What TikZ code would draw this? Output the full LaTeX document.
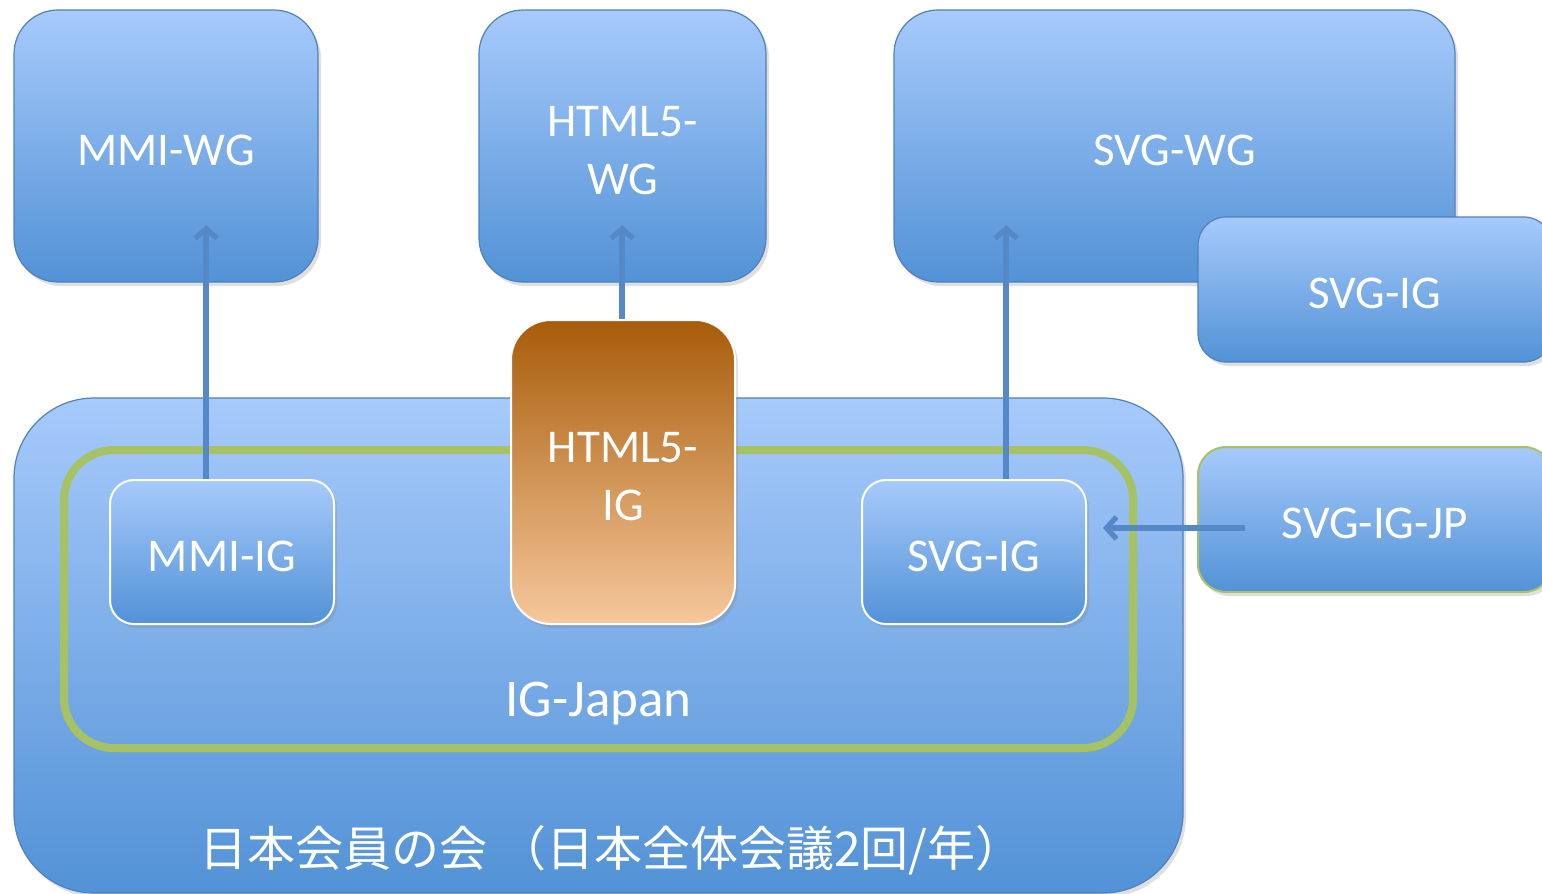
\documentclass[tikz,border=0pt]{standalone}
\usepackage{fontspec}
\setmainfont{Carlito}
\newfontfamily\jpfont{Noto Sans CJK JP}
\usepackage{tikz}
\usetikzlibrary{calc}
\usetikzlibrary{positioning}
\usetikzlibrary{arrows.meta}
\usetikzlibrary{shadows}

\definecolor{boxtop}{RGB}{167,202,251}
\definecolor{boxbot}{RGB}{82,146,214}
\definecolor{boxline}{RGB}{79,129,189}
\definecolor{igtop}{RGB}{168,92,10}
\definecolor{igbot}{RGB}{246,200,156}
\definecolor{japgreen}{RGB}{166,194,100}
\definecolor{arrblue}{RGB}{84,136,198}

\begin{document}
\begin{tikzpicture}[x=0.5pt, y=-0.5pt]
\tikzstyle{box}=[rectangle,rounded corners=22pt,align=center,text=white,inner sep=0pt,
                 font=\fontsize{23.5}{29}\selectfont,top color=boxtop,bottom color=boxbot,
                 draw=boxline,line width=0.6pt,text height=19pt,text depth=0pt,
                 drop shadow={shadow xshift=1.5pt,shadow yshift=-2pt,opacity=0.25}]
\tikzstyle{twolines}=[text height=48pt]
\tikzstyle{ig}=[box,rounded corners=12pt,draw=white,line width=1pt,
                minimum width=112pt,minimum height=72pt]
\tikzstyle{arr}=[draw=arrblue,line width=2.6pt,-{Straight Barb[length=5pt,width=11pt]}]
\useasboundingbox (0, 0) rectangle (1542, 894);

% working groups
\node[box,minimum width=152pt,minimum height=136pt] at(166, 146) (mmiwg) {MMI-WG};
\node[box,twolines,minimum width=143.5pt,minimum height=136pt] at(622.5, 146) (htmlwg) {HTML5-\\WG};
\node[box,minimum width=280.5pt,minimum height=136pt] at(1174.5, 146) (svgwg) {SVG-WG};
\node[box,rounded corners=14pt,minimum width=177pt,minimum height=72.5pt] at(1375, 289.5) (svgigw3c) {SVG-IG};

% japan
\node[box,rounded corners=40pt,minimum width=584.5pt,minimum height=247.5pt] at(598.5, 645.5) (kaigi) {};
\node[rectangle,rounded corners=25pt,draw=japgreen,line width=4pt,minimum width=534.5pt,
      minimum height=149pt] at(598.5, 599) (igjapan) {};
\node[box,rounded corners=14pt,draw=japgreen,line width=1pt,minimum width=177pt,
      minimum height=72.5pt] at(1375, 519.5) (svgigjp) {SVG-IG-JP};
\node[text=white,font=\fontsize{26.5}{30}\selectfont,anchor=center] at([yshift=24pt]igjapan.south) (igjapantxt) {IG-Japan};
\node[text=white,font=\jpfont\fontsize{24}{29}\selectfont,anchor=center] at([xshift=6.5pt,yshift=21.5pt]kaigi.south) (kaigitxt) {日本会員の会 （日本全体会議2回/年）};

% arrows
\coordinate (tipy) at(0, 225);
\coordinate (mmifoot) at(206, 480);
\coordinate (svgfoot) at(1006, 480);
\coordinate (htmlfoot) at(622, 320);
\coordinate (jpfoot) at(1245, 528);
\coordinate (jptip) at(1103, 528);
\draw[arr] (mmifoot) -- (mmifoot |- tipy);
\draw[arr] (htmlfoot) -- (htmlfoot |- tipy);
\draw[arr] (svgfoot) -- (svgfoot |- tipy);
\draw[arr] (jpfoot) -- (jptip);

% interest groups
\node[ig] at(222, 552) (mmiig) {MMI-IG};
\node[ig,twolines,rounded corners=20pt,minimum height=152pt,top color=igtop,bottom color=igbot] at(623, 472) (htmlig) {HTML5-\\IG};
\node[ig] at(974, 552) (svgig) {SVG-IG};
\end{tikzpicture}
\end{document}
